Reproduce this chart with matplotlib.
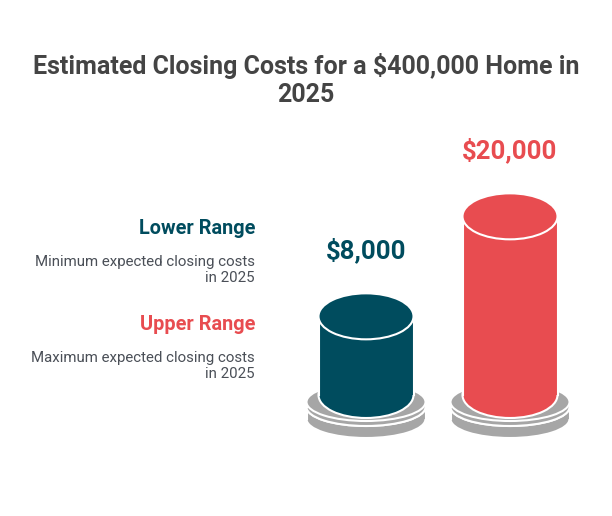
import matplotlib
matplotlib.use("Agg")
import matplotlib.pyplot as plt
from matplotlib.patches import Ellipse, Rectangle

plt.rcParams['font.family'] = ['Roboto', 'DejaVu Sans']

# data
labels = ["Lower Range", "Upper Range"]
descriptions = ["Minimum expected closing costs\nin 2025",
                "Maximum expected closing costs\nin 2025"]
values = [8000, 20000]
value_labels = ["$8,000", "$20,000"]
colors = ["#004C5E", "#E84C50"]
title = "Estimated Closing Costs for a $400,000 Home in\n2025"

GRAY = "#A6A6A6"

fig = plt.figure(figsize=(6.12, 5.16), dpi=100)
ax = fig.add_axes([0, 0, 1, 1])
ax.set_xlim(0, 612)
ax.set_ylim(516, 0)
ax.axis("off")


def cylinder(ax, cx, y_bottom, height, w, ry, color, z):
    # body + bottom cap + top cap, white outline
    ax.add_patch(Ellipse((cx, y_bottom), w, 2 * ry, facecolor=color,
                         edgecolor="white", lw=1.5, zorder=z))
    ax.add_patch(Rectangle((cx - w / 2, y_bottom - height), w, height,
                           facecolor=color, edgecolor="none", zorder=z + 0.1))
    ax.plot([cx - w / 2, cx - w / 2], [y_bottom, y_bottom - height],
            color="white", lw=1.5, zorder=z + 0.2)
    ax.plot([cx + w / 2, cx + w / 2], [y_bottom, y_bottom - height],
            color="white", lw=1.5, zorder=z + 0.2)
    ax.add_patch(Ellipse((cx, y_bottom - height), w, 2 * ry, facecolor=color,
                         edgecolor="white", lw=1.5, zorder=z + 0.3))


centers = [366, 510]
base_y = 395
scale = 1 / 120.0
offset = 12

for i in range(len(values)):
    cx = centers[i]
    # two stacked gray plates
    cylinder(ax, cx, 419, 12, 119, 19, GRAY, 1)
    cylinder(ax, cx, 407, 5, 119, 19, GRAY, 2)
    h = offset + values[i] * scale
    cylinder(ax, cx, base_y, h, 95, 23, colors[i], 3)
    ax.text(cx, base_y - h - 66, value_labels[i], ha="center", va="center",
            fontsize=18.5, fontweight="bold", color=colors[i])

ax.text(306, 80, title, ha="center", va="center", fontsize=18,
        fontweight="bold", color="#444444", linespacing=1.2)

label_y = [228, 324]
for i in range(len(labels)):
    ax.text(255, label_y[i], labels[i], ha="right", va="center", fontsize=14.3,
            fontweight="bold", color=colors[i])
    ax.text(255, label_y[i] + 42, descriptions[i], ha="right", va="center",
            fontsize=10.8, color="#4A4F57", linespacing=1.25)

fig.savefig("out.png", dpi=100)
